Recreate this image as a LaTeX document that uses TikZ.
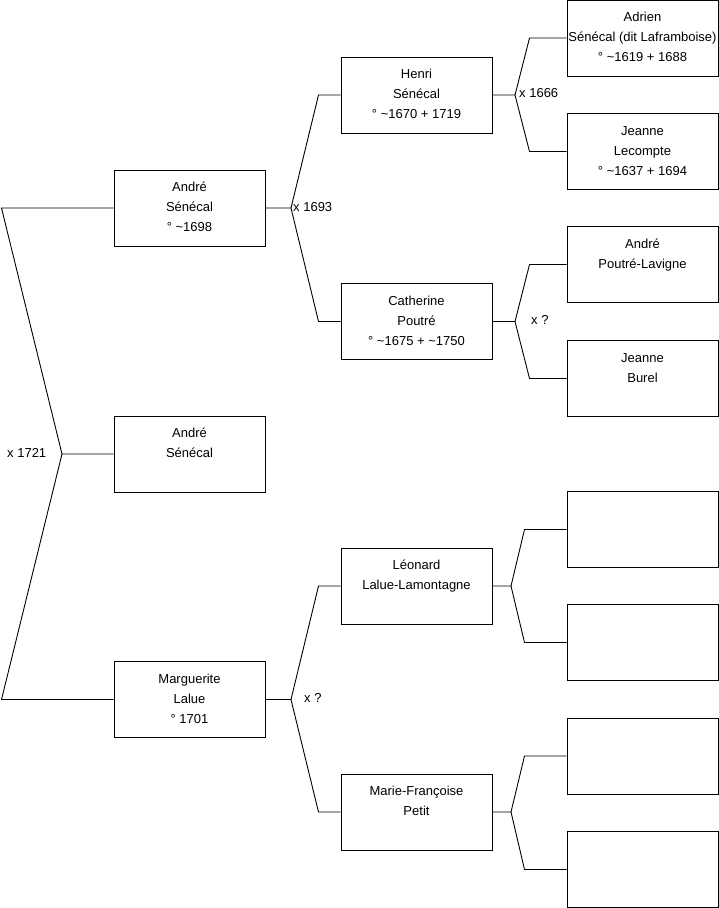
\documentclass[tikz,border=0pt]{standalone}
\usepackage{fontspec}
\setmainfont{Liberation Sans}
\newcommand\tl{\textasciitilde}
\newcommand\boxtxt[1]{\parbox[c][76pt][t]{151pt}{\centering\fontsize{13}{20}\selectfont\rule{0pt}{21.5pt}#1\par}}
\tikzset{
  person/.style={draw=black, line width=1pt, inner sep=0pt, minimum width=151pt, minimum height=76pt, fill=white},
  link/.style={draw=black, line width=0.9pt},
  marr/.style={anchor=west, inner sep=0pt, font=\fontsize{13}{15}\selectfont}
}
\begin{document}
\begin{tikzpicture}[x=1pt,y=-1pt]
\useasboundingbox (0,0) rectangle (719,908);
% level 1
\node[person] (andre)  at (189.5,208) {\boxtxt{André\\Sénécal\\° \tl1698}};
\node[person] (root)   at (189.5,454) {\boxtxt{André\\Sénécal}};
\node[person] (marg)   at (189.5,699.5) {\boxtxt{Marguerite\\Lalue\\° 1701}};
% level 2
\node[person] (henri)  at (416.5,95) {\boxtxt{Henri\\Sénécal\\° \tl1670 + 1719}};
\node[person] (cath)   at (416.5,321.5) {\boxtxt{Catherine\\Poutré\\° \tl1675 + \tl1750}};
\node[person] (leon)   at (416.5,586) {\boxtxt{Léonard\\Lalue-Lamontagne}};
\node[person] (marie)  at (416.5,812) {\boxtxt{Marie-Françoise\\Petit}};
% level 3
\node[person] (adrien) at (642.5,38) {\boxtxt{Adrien\\Sénécal (dit Laframboise)\\° \tl1619 + 1688}};
\node[person] (jlec)   at (642.5,151.5) {\boxtxt{Jeanne\\Lecompte\\° \tl1637 + 1694}};
\node[person] (apl)    at (642.5,264.5) {\boxtxt{André\\Poutré-Lavigne}};
\node[person] (jbur)   at (642.5,378.5) {\boxtxt{Jeanne\\Burel}};
\node[person] (e1)     at (642.5,529.5) {\boxtxt{}};
\node[person] (e2)     at (642.5,642.5) {\boxtxt{}};
\node[person] (e3)     at (642.5,756) {\boxtxt{}};
\node[person] (e4)     at (642.5,869.5) {\boxtxt{}};
% fork points
\coordinate (f0) at (62,454);
\coordinate (f1) at (291,208);
\coordinate (f2) at (291,699.5);
\coordinate (f3) at (515,95);
\coordinate (f4) at (515,321.5);
\coordinate (f5) at (511,586);
\coordinate (f6) at (511,812);
% connectors
\draw[link] (root.west) -- (f0) -- ([xshift=-112pt]andre.west) -- (andre.west);
\draw[link] (f0) -- ([xshift=-112pt]marg.west) -- (marg.west);
\draw[link] (andre.east) -- (f1) -- ([xshift=-22pt]henri.west) -- (henri.west);
\draw[link] (f1) -- ([xshift=-22pt]cath.west) -- (cath.west);
\draw[link] (marg.east) -- (f2) -- ([xshift=-22pt]leon.west) -- (leon.west);
\draw[link] (f2) -- ([xshift=-22pt]marie.west) -- (marie.west);
\draw[link] (henri.east) -- (f3) -- ([xshift=-37pt]adrien.west) -- (adrien.west);
\draw[link] (f3) -- ([xshift=-37pt]jlec.west) -- (jlec.west);
\draw[link] (cath.east) -- (f4) -- ([xshift=-37pt]apl.west) -- (apl.west);
\draw[link] (f4) -- ([xshift=-37pt]jbur.west) -- (jbur.west);
\draw[link] (leon.east) -- (f5) -- ([xshift=-42pt]e1.west) -- (e1.west);
\draw[link] (f5) -- ([xshift=-42pt]e2.west) -- (e2.west);
\draw[link] (marie.east) -- (f6) -- ([xshift=-42pt]e3.west) -- (e3.west);
\draw[link] (f6) -- ([xshift=-42pt]e4.west) -- (e4.west);
% marriage labels
\node[marr] (m0) at (7,453) {x 1721};
\node[marr] (m1) at (293,207.5) {x 1693};
\node[marr] (m2) at (304,698) {x ?};
\node[marr] (m3) at (519,93) {x 1666};
\node[marr] (m4) at (531,320) {x ?};
\end{tikzpicture}
\end{document}
